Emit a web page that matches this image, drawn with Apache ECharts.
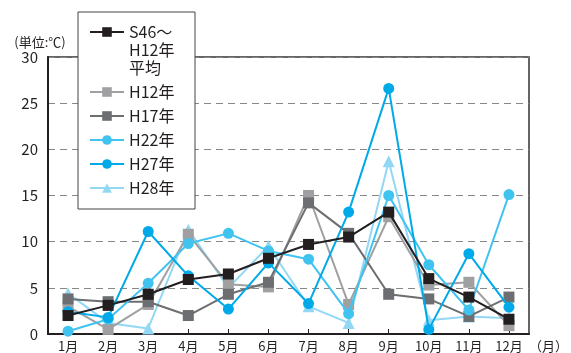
<!DOCTYPE html>
<html>
<head>
<meta charset="utf-8">
<script src="https://cdn.jsdelivr.net/npm/echarts@6/dist/echarts.min.js"></script>
<style>
html,body{margin:0;padding:0;background:#fff;}
#chart{width:571px;height:353px;}
</style>
</head>
<body>
<div id="chart"></div>
<script>
var months = ['1月','2月','3月','4月','5月','6月','7月','8月','9月','10月','11月','12月'];
var avgName = 'S46～\nH12年\n平均';
var avgS46H12 = [2.0, 3.1, 4.3, 5.9, 6.5, 8.2, 9.7, 10.5, 13.2, 6.0, 4.0, 1.6];
var h12 = [3.0, 0.5, 3.2, 10.8, 5.4, 5.1, 15.0, 3.2, 12.7, 5.3, 5.6, 0.9];
var h17 = [3.8, 3.5, 3.5, 2.0, 4.3, 5.6, 14.2, 10.9, 4.3, 3.8, 1.9, 4.0];
var h22 = [0.3, 1.6, 5.5, 9.8, 10.9, 9.0, 8.1, 2.2, 15.0, 7.5, 2.6, 15.1];
var h27 = [2.4, 1.8, 11.1, 6.3, 2.7, 7.7, 3.3, 13.2, 26.6, 0.5, 8.7, 2.9];
var h28 = [4.4, 1.2, 0.6, 11.3, 5.0, 9.5, 3.0, 1.2, 18.7, 1.5, 1.9, 1.7];
var yTicks = [0, 5, 10, 15, 20, 25, 30];

var font = '"Noto Sans CJK JP", "Noto Sans", sans-serif';
var myChart = echarts.init(document.getElementById('chart'));

function line(name, data, color, symbol, size, z) {
    return {
        name: name,
        type: 'line',
        data: data,
        symbol: symbol,
        symbolSize: size,
        z: z,
        lineStyle: { color: color, width: 2 },
        itemStyle: { color: color },
        emphasis: { disabled: true },
        animation: false
    };
}

option = {
    textStyle: { fontFamily: font },
    grid: {
        left: 48, right: 38, top: 57, bottom: 19,
        show: true, borderColor: '#333', borderWidth: 1.5
    },
    graphic: [{
        type: 'rect',
        z: 10,
        shape: { x: 78, y: 12, width: 117, height: 197 },
        style: { fill: '#fff', stroke: '#444', lineWidth: 1 }
    }],
    legend: {
        z: 20,
        orient: 'vertical',
        left: 89,
        top: -13,
        padding: 0,
        itemWidth: 34,
        itemHeight: 12,
        itemGap: 6,
        textStyle: { fontSize: 16, lineHeight: 18, color: '#231f20', fontFamily: font },
        // two blank lines on top keep the first text line level with its icon
        formatter: function (name) {
            return name === avgName ? '\n\n' + name : name;
        },
        data: [avgName, 'H12年', 'H17年', 'H22年', 'H27年', 'H28年']
    },
    xAxis: {
        type: 'category',
        data: months,
        name: '（月）',
        nameLocation: 'end',
        nameGap: 0,
        nameTextStyle: { fontSize: 13, color: '#231f20', verticalAlign: 'top', padding: [6, 0, 0, 0] },
        axisLine: { lineStyle: { color: '#231f20', width: 2 } },
        axisTick: { show: true, inside: true, alignWithLabel: true, length: 5, lineStyle: { color: '#231f20' } },
        axisLabel: { fontSize: 13, color: '#231f20', margin: 6 }
    },
    yAxis: {
        type: 'value',
        min: yTicks[0],
        max: yTicks[yTicks.length - 1],
        interval: 5,
        name: '(単位:℃)',
        nameLocation: 'end',
        nameGap: 8,
        nameTextStyle: { fontSize: 13, color: '#231f20', padding: [0, 16, 0, 0] },
        axisLine: { show: true, lineStyle: { color: '#231f20', width: 2 } },
        axisTick: { show: false },
        axisLabel: { fontSize: 15, color: '#231f20', margin: 10 },
        splitLine: { lineStyle: { color: '#888', width: 1.2, type: [7, 5] } }
    },
    series: [
        line('H12年', h12, '#a0a0a2', 'rect', 11, 2),
        line('H17年', h17, '#6d6e71', 'rect', 11, 3),
        line('H22年', h22, '#40c4ef', 'circle', 11, 4),
        line('H27年', h27, '#00a9e8', 'circle', 11, 5),
        line('H28年', h28, '#92d8f5', 'triangle', 12, 1),
        line(avgName, avgS46H12, '#231f20', 'rect', 11, 6)
    ]
};
myChart.setOption(option);
</script>
</body>
</html>
